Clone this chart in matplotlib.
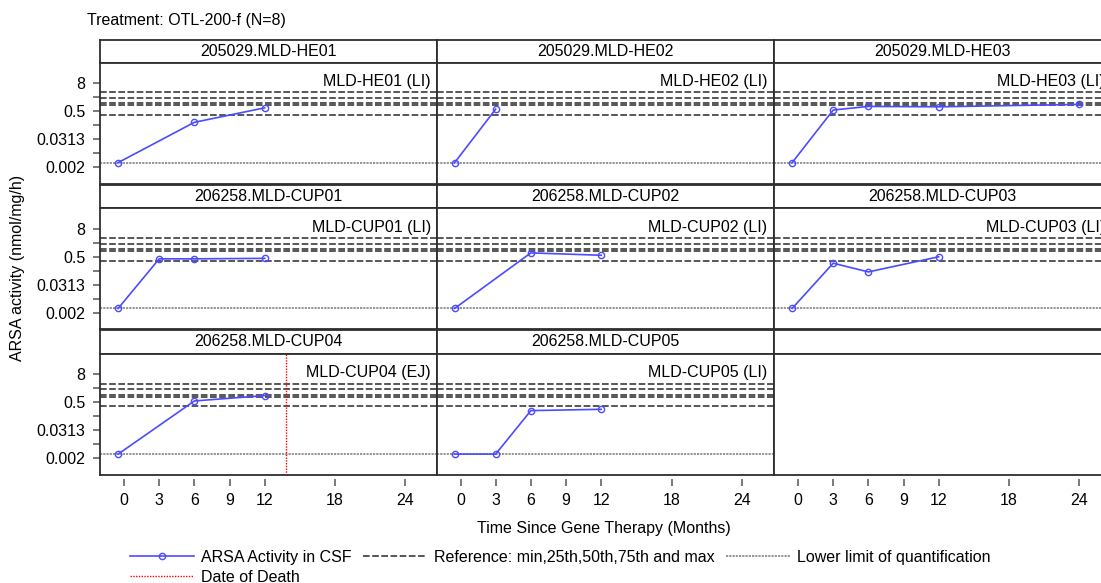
import matplotlib
matplotlib.use('Agg')
import matplotlib.pyplot as plt
from matplotlib.lines import Line2D
from matplotlib.ticker import FixedLocator, FixedFormatter, NullFormatter

plt.rcParams['font.family'] = ['Liberation Sans', 'DejaVu Sans']
plt.rcParams['font.size'] = 11.5

# ---- data ----
strip_labels = ['205029.MLD-HE01', '205029.MLD-HE02', '205029.MLD-HE03',
                '206258.MLD-CUP01', '206258.MLD-CUP02', '206258.MLD-CUP03',
                '206258.MLD-CUP04', '206258.MLD-CUP05']
inset_labels = ['MLD-HE01 (LI)', 'MLD-HE02 (LI)', 'MLD-HE03 (LI)',
                'MLD-CUP01 (LI)', 'MLD-CUP02 (LI)', 'MLD-CUP03 (LI)',
                'MLD-CUP04 (EJ)', 'MLD-CUP05 (LI)']

# months since gene therapy / ARSA activity in CSF (nmol/mg/h)
months_he01 = [-0.5, 6, 12]
arsa_he01 = [0.003, 0.16, 0.67]
months_he02 = [-0.5, 3]
arsa_he02 = [0.003, 0.59]
months_he03 = [-0.5, 3, 6, 12, 24]
arsa_he03 = [0.003, 0.54, 0.77, 0.74, 0.94]
months_cup01 = [-0.5, 3, 6, 12]
arsa_cup01 = [0.003, 0.40, 0.40, 0.42]
months_cup02 = [-0.5, 6, 12]
arsa_cup02 = [0.003, 0.72, 0.57]
months_cup03 = [-0.5, 3, 6, 12]
arsa_cup03 = [0.003, 0.26, 0.11, 0.49]
months_cup04 = [-0.5, 6, 12]
arsa_cup04 = [0.003, 0.57, 0.97]
months_cup05 = [-0.5, 3, 6, 12]
arsa_cup05 = [0.003, 0.003, 0.22, 0.25]

months = [months_he01, months_he02, months_he03, months_cup01,
          months_cup02, months_cup03, months_cup04, months_cup05]
arsa = [arsa_he01, arsa_he02, arsa_he03, arsa_cup01,
        arsa_cup02, arsa_cup03, arsa_cup04, arsa_cup05]

ref_values = [0.33, 0.88, 1.07, 1.8, 3.1]   # min, 25th, 50th, 75th, max
lloq = 0.003
death_month = {6: 13.8}                      # panel index -> month of death

x_ticks = [0, 3, 6, 9, 12, 18, 24]
y_major = [8, 0.5, 0.03125, 0.001953125]
y_major_labels = ['8', '0.5', '0.0313', '0.002']
y_minor = [2, 0.125, 0.0078125]

# ---- layout (pixels) ----
W, H = 1101, 583
fig = plt.figure(figsize=(W / 100, H / 100), dpi=100)

col_left = [100, 436.5, 774]
col_w = 337
strip_top = [40, 184.5, 330]
plot_top = [62.5, 208.3, 354]
plot_bot = [183.5, 329.3, 475]

frame_col = '#2e2e2e'
frame_lw = 1.3
blue = '#4b4bff'
tick_col = '#555555'


def rect(x0, y0, x1, y1):
    return [x0 / W, 1 - y1 / H, (x1 - x0) / W, (y1 - y0) / H]


def style_frame(ax):
    for s in ax.spines.values():
        s.set_color(frame_col)
        s.set_linewidth(frame_lw)


for idx in range(9):
    r, c = divmod(idx, 3)
    x0 = col_left[c]
    x1 = x0 + col_w

    # strip header
    sax = fig.add_axes(rect(x0, strip_top[r], x1, plot_top[r]))
    sax.set_xticks([])
    sax.set_yticks([])
    style_frame(sax)
    if idx < 8:
        sax.text(0.5, 0.5, strip_labels[idx], ha='center', va='center',
                 transform=sax.transAxes)

    ax = fig.add_axes(rect(x0, plot_top[r], x1, plot_bot[r]))
    style_frame(ax)
    ax.set_yscale('log', base=2)
    ax.set_ylim(2 ** -11.36, 2 ** 5.88)
    ax.set_xlim(-2.05, 26.7)
    ax.yaxis.set_major_locator(FixedLocator(y_major))
    ax.yaxis.set_major_formatter(FixedFormatter(y_major_labels))
    ax.yaxis.set_minor_locator(FixedLocator(y_minor))
    ax.yaxis.set_minor_formatter(NullFormatter())
    ax.set_xticks(x_ticks)
    ax.tick_params(axis='both', which='both', colors=tick_col,
                   labelcolor='black', labelsize=11.5)
    ax.tick_params(axis='y', which='both', length=5, width=1.1, pad=5.5)
    ax.tick_params(axis='x', length=5, width=1.1, pad=5)

    if c != 0:
        ax.tick_params(axis='y', which='both', left=False, labelleft=False)
    bottom_row = (r == 2)
    if bottom_row:
        # SAS-style detached x ticks; frame bottom drawn by hand
        ax.spines['bottom'].set_position(('outward', 3))
        ax.spines['bottom'].set_visible(False)
        ax.plot([0, 1], [0, 0], transform=ax.transAxes, color=frame_col,
                lw=frame_lw, clip_on=False)
    else:
        ax.tick_params(axis='x', bottom=False, labelbottom=False)

    if idx == 8:
        ax.tick_params(axis='y', which='both', left=False, labelleft=False)
        continue

    for v in ref_values:
        ax.axhline(v, color='#3a3a3a', lw=1.2, dashes=(4, 1.5))
    ax.axhline(lloq, color='#8c8c8c', lw=1.3, dashes=(1.2, 0.6))
    if idx in death_month:
        ax.axvline(death_month[idx], color='red', lw=1.0, dashes=(1, 1))

    ax.plot(months[idx], arsa[idx], color=blue, lw=1.2, marker='o', ms=4.5,
            mfc='none', mec=blue, mew=1.0, clip_on=False, zorder=5)

    ax.text(1 - 6 / col_w, 1 - 19 / 121, inset_labels[idx], ha='right',
            va='center', transform=ax.transAxes)

fig.text(87 / W, 1 - 20 / H, 'Treatment: OTL-200-f (N=8)', ha='left',
         va='center')
fig.text(18 / W, 1 - 268 / H, 'ARSA activity (nmol/mg/h)', rotation=90,
         ha='center', va='center')
fig.text(604 / W, 1 - 528 / H, 'Time Since Gene Therapy (Months)',
         ha='center', va='center')

handles = [
    Line2D([], [], color=blue, lw=1.2, marker='o', ms=4.5, mfc='none', mec=blue),
    Line2D([], [], color='red', lw=1.0, dashes=(1, 1)),
    Line2D([], [], color='#3a3a3a', lw=1.2, dashes=(4, 1.5)),
    Line2D([], [], color='#8c8c8c', lw=1.3, dashes=(1.2, 0.6)),
]
labels = ['ARSA Activity in CSF', 'Date of Death',
          'Reference: min,25th,50th,75th and max',
          'Lower limit of quantification']
fig.legend(handles, labels, ncol=3, loc='upper left',
           bbox_to_anchor=(130 / W, 1 - 550 / H), frameon=False,
           handlelength=4.0, handletextpad=0.45, columnspacing=0.7,
           borderpad=0, borderaxespad=0, labelspacing=0.3)

fig.savefig('out.png', dpi=100)
